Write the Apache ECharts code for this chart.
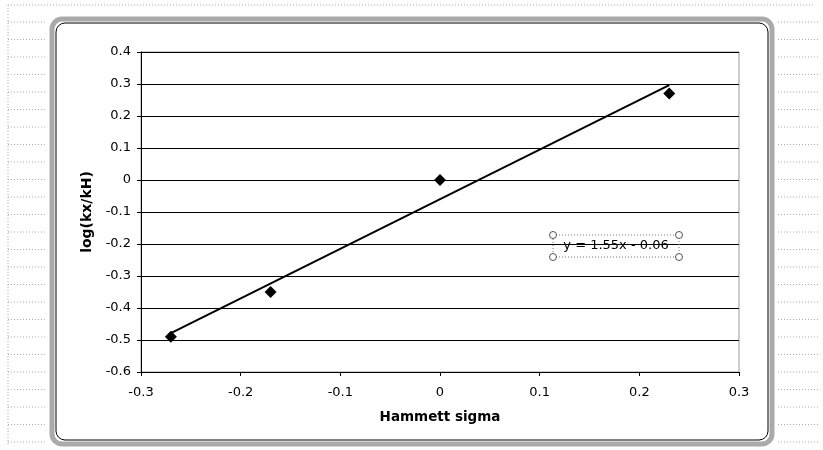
<!DOCTYPE html>
<html>
<head>
<meta charset="utf-8">
<script src="https://cdn.jsdelivr.net/npm/echarts@6/dist/echarts.min.js"></script>
<style>
  html, body { margin: 0; padding: 0; background: #fff; }
  #main { width: 823px; height: 450px; }
</style>
</head>
<body>
<div id="main"></div>
<script>
// Hammett plot data
var sigma = [-0.27, -0.17, 0, 0.23]
var logRatio = [-0.49, -0.35, 0, 0.27]
// trendline y = 1.55x - 0.06
var slope = 1.55
var intercept = -0.06
var fitLabel = 'y = 1.55x - 0.06'

var points = sigma.map(function (x, i) { return [x, logRatio[i]] })
var xMin = Math.min.apply(null, sigma)
var xMax = Math.max.apply(null, sigma)
var fitLine = [[xMin, slope * xMin + intercept], [xMax, slope * xMax + intercept]]

var font = 'DejaVu Sans, Verdana, sans-serif'

// faint spreadsheet cell lines outside the chart frame
var dotted = { stroke: '#aaa', lineWidth: 1, lineDash: [1, 2] }
var cellLines = [
  { type: 'line', shape: { x1: 8, y1: 5, x2: 815, y2: 5 }, style: dotted, silent: true },
  { type: 'line', shape: { x1: 8, y1: 5, x2: 8, y2: 445 }, style: dotted, silent: true }
]
for (var y = 22; y < 445; y += 17.5) {
  cellLines.push({ type: 'line', shape: { x1: 8, y1: y, x2: 46, y2: y }, style: dotted, silent: true })
  cellLines.push({ type: 'line', shape: { x1: 778, y1: y, x2: 820, y2: y }, style: dotted, silent: true })
}

var chart = echarts.init(document.getElementById('main'))
chart.setOption({
  backgroundColor: '#fff',
  animation: false,
  grid: { left: 141, right: 84, top: 52, bottom: 78, show: true, borderColor: '#999', borderWidth: 1 },
  xAxis: {
    type: 'value',
    min: -0.3,
    max: 0.3,
    interval: 0.1,
    name: 'Hammett sigma',
    nameLocation: 'middle',
    nameGap: 38,
    nameTextStyle: { fontFamily: font, fontWeight: 'bold', fontSize: 13.5, color: '#000' },
    axisLine: { onZero: false, lineStyle: { color: '#000', width: 1 } },
    axisTick: { show: true, length: 4, lineStyle: { color: '#000' } },
    axisLabel: { fontFamily: font, fontSize: 13, color: '#000', margin: 14, formatter: function (v) { return +v.toFixed(1) } },
    splitLine: { show: false }
  },
  yAxis: {
    type: 'value',
    min: -0.6,
    max: 0.4,
    interval: 0.1,
    name: 'log(kx/kH)',
    nameLocation: 'middle',
    nameGap: 47,
    nameRotate: 90,
    nameTextStyle: { fontFamily: font, fontWeight: 'bold', fontSize: 14, color: '#000' },
    axisLine: { show: true, onZero: false, lineStyle: { color: '#000', width: 1 } },
    axisTick: { show: true, length: 4, lineStyle: { color: '#000' } },
    axisLabel: { fontFamily: font, fontSize: 13, color: '#000', margin: 10, formatter: function (v) { return +v.toFixed(1) } },
    splitLine: { show: true, lineStyle: { color: '#000', width: 1 } }
  },
  series: [{
    type: 'line',
    data: fitLine,
    symbol: 'none',
    lineStyle: { color: '#000', width: 2 },
    z: 2
  }, {
    type: 'scatter',
    data: points,
    symbol: 'diamond',
    symbolSize: 12,
    itemStyle: { color: '#000', opacity: 1 },
    z: 3
  }],
  graphic: cellLines.concat([
    // outer chart frame
    { type: 'rect', shape: { x: 52, y: 19, width: 720, height: 425, r: 10 }, style: { fill: 'none', stroke: '#aaa', lineWidth: 5 }, silent: true },
    { type: 'rect', shape: { x: 56, y: 23, width: 712, height: 417, r: 9 }, style: { fill: 'none', stroke: '#000', lineWidth: 1 }, silent: true },
    // trendline label with selection handles
    { type: 'rect', shape: { x: 553, y: 235, width: 126, height: 22 }, style: { fill: 'none', stroke: '#777', lineWidth: 1, lineDash: [1, 2] }, z: 10, silent: true },
    { type: 'text', x: 616, y: 246, style: { text: fitLabel, fontFamily: font, fontSize: 13, fill: '#000', align: 'center', verticalAlign: 'middle' }, z: 11, silent: true },
    { type: 'circle', shape: { cx: 553, cy: 235, r: 3.5 }, style: { fill: '#fff', stroke: '#555', lineWidth: 1 }, z: 12, silent: true },
    { type: 'circle', shape: { cx: 679, cy: 235, r: 3.5 }, style: { fill: '#fff', stroke: '#555', lineWidth: 1 }, z: 12, silent: true },
    { type: 'circle', shape: { cx: 553, cy: 257, r: 3.5 }, style: { fill: '#fff', stroke: '#555', lineWidth: 1 }, z: 12, silent: true },
    { type: 'circle', shape: { cx: 679, cy: 257, r: 3.5 }, style: { fill: '#fff', stroke: '#555', lineWidth: 1 }, z: 12, silent: true }
  ])
})
</script>
</body>
</html>
